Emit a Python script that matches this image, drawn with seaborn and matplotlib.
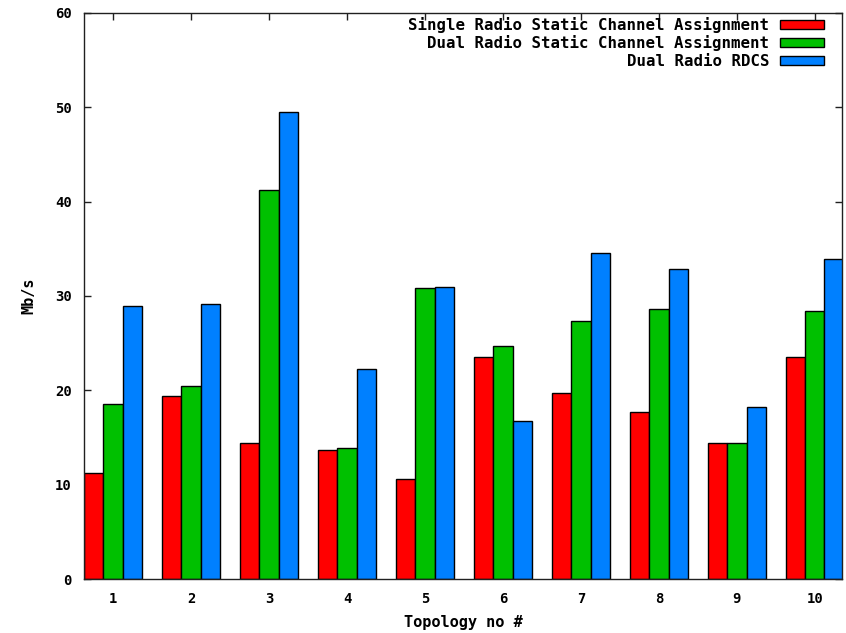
import pandas as pd
import matplotlib
matplotlib.use("Agg")
import matplotlib.pyplot as plt
import seaborn as sns

# Données
topologies = ["1", "2", "3", "4", "5", "6", "7", "8", "9", "10"]
single_static = [11.2, 19.4, 14.4, 13.7, 10.6, 23.5, 19.7, 17.7, 14.4, 23.5]
dual_static = [18.5, 20.5, 41.2, 13.9, 30.8, 24.7, 27.3, 28.6, 14.4, 28.4]
dual_rdcs = [28.9, 29.2, 49.5, 22.3, 31.0, 16.7, 34.6, 32.9, 18.2, 33.9]

series_names = ["Single Radio Static Channel Assignment",
                "Dual Radio Static Channel Assignment",
                "Dual Radio RDCS"]
colors = ["#ff0000", "#00c000", "#0080ff"]

df = pd.DataFrame({
    "Topology": topologies * 3,
    "Mb/s": single_static + dual_static + dual_rdcs,
    "Serie": [series_names[0]] * 10 + [series_names[1]] * 10 + [series_names[2]] * 10,
})

sns.set_style("ticks")
plt.rcParams['font.family'] = ['DejaVu Sans Mono']
plt.rcParams['font.weight'] = 'bold'
plt.rcParams['text.color'] = 'black'
plt.rcParams['axes.labelcolor'] = 'black'

fig = plt.figure(figsize=(8.46, 6.33), dpi=100)
ax = fig.add_axes([0.0993, 0.0853, 0.8960, 0.8942])

sns.barplot(data=df, x="Topology", y="Mb/s", hue="Serie", order=topologies,
            hue_order=series_names, palette=colors, width=0.75,
            edgecolor="black", linewidth=1, saturation=1, ax=ax)

ax.set_xlim(-0.375, 9.35)
ax.set_ylim(0, 60)
ax.set_yticks(range(0, 61, 10))

for s in ax.spines.values():
    s.set_visible(True)
    s.set_color("#202020")
    s.set_linewidth(1)

ax.tick_params(direction="in", length=5, width=1, top=True, right=True,
               labelsize=10, pad=9, colors="#202020", labelcolor="black")
for lab in ax.get_xticklabels() + ax.get_yticklabels():
    lab.set_fontweight("bold")

ax.set_xlabel("Topology no #", fontsize=11, fontweight="bold", labelpad=7)
ax.set_ylabel("Mb/s", fontsize=11, fontweight="bold", labelpad=13)

# légende en haut à droite, texte avant la couleur (style gnuplot)
leg = ax.legend(loc="upper right", bbox_to_anchor=(0.9763, 0.993),
                frameon=False, markerfirst=False,
                handlelength=2.8, handleheight=0.5,
                labelspacing=0.16, handletextpad=0.7,
                borderaxespad=0, borderpad=0,
                prop={'weight': 'bold', 'size': 11.3})
for t in leg.get_texts():
    t.set_color("black")

plt.savefig("out.png", dpi=100)
